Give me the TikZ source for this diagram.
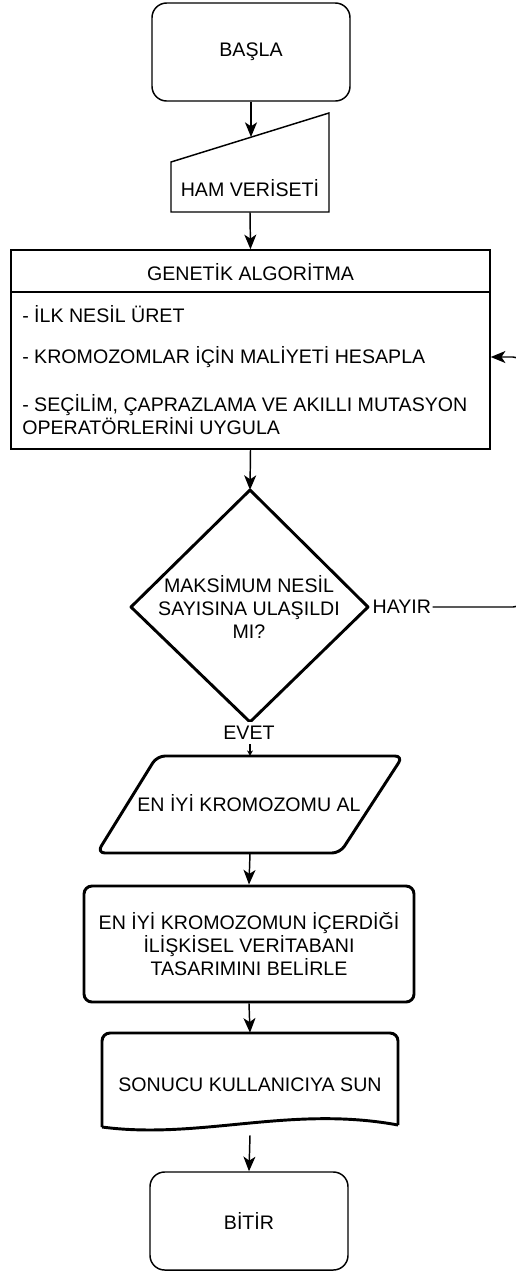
\documentclass[tikz,border=0pt]{standalone}
\usepackage{fontspec}
\setmainfont{Liberation Sans}
\usetikzlibrary{arrows.meta,calc}
\begin{document}
\begin{tikzpicture}[x=0.75pt,y=-0.75pt,
  every node/.style={font=\fontsize{14.7pt}{17.25pt}\selectfont},
  box/.style={inner sep=0pt, align=center},
  thinline/.style={draw, line width=1.1pt},
  thickline/.style={draw, line width=2.2pt, line join=round},
  flow/.style={line width=1.1pt, -{Stealth[length=11pt,width=9pt,inset=3pt]}},
  smallflow/.style={line width=1.1pt, -{Stealth[length=4pt,width=4.5pt]}},
  lbl/.style={fill=white, inner xsep=1pt, inner ysep=3pt},
]
\useasboundingbox (0,0) rectangle (516,1275);
\fill[white] (0,0) rectangle (516,1275);

% start terminal
\node[box, thinline, rounded corners=11pt, minimum width=148.5pt, minimum height=73.5pt] (start) at (251,52) {BAŞLA};

% manual input
\node[box, minimum width=118.5pt, minimum height=74.25pt] (ham) at (250,162.5) {};
\draw[thinline] (171,162) -- (329,113) -- (329,212) -- (171,212) -- cycle;
\node[box] (hamtext) at (250,188) {HAM VERİSETİ};
\coordinate (hamtop) at (251,137);

% genetic algorithm block
\node[box, thinline, minimum width=359.25pt, minimum height=149.25pt] (ga) at (250.5,349.5) {};
\coordinate (div) at (0,292);
\draw[line width=1.1pt] (ga.west |- div) -- (ga.east |- div);
\node[box] (gahead) at (250.5,272) {GENETİK ALGORİTMA};
\node[box, anchor=west] (ga1) at (22,314) {- İLK NESİL ÜRET};
\node[box, anchor=west] (ga2) at (22,357) {- KROMOZOMLAR İÇİN MALİYETİ HESAPLA};
\node[box, anchor=west, align=left] (ga3) at (22,414.5) {- SEÇİLİM, ÇAPRAZLAMA VE AKILLI MUTASYON\\OPERATÖRLERİNİ UYGULA};

% decision
\coordinate (diatop) at (250,490);
\coordinate (diaright) at (368,607);
\coordinate (diabot) at (250,722);
\coordinate (dialeft) at (131,607);
\draw[thickline] (diatop) -- (diaright) -- (diabot) -- (dialeft) -- cycle;
\node[box] (diatext) at (249,607) {MAKSİMUM NESİL\\SAYISINA ULAŞILDI\\MI?};

% output of best chromosome
\node[box, minimum width=229.5pt, minimum height=72.75pt] (best) at (250,804.5) {};
\draw[thickline, rounded corners=6pt] (157,756) -- (403,756) -- (340,853) -- (97,853) -- cycle;
\node[box] (besttext) at (249,803) {EN İYİ KROMOZOMU AL};

% process
\node[box, thickline, rounded corners=6pt, minimum width=247.5pt, minimum height=87pt] (decide) at (249,944)
  {EN İYİ KROMOZOMUN İÇERDİĞİ\\İLİŞKİSEL VERİTABANI\\TASARIMINI BELİRLE};

% document
\node[box, minimum width=222pt, minimum height=76.5pt] (sun) at (250,1084) {};
\draw[thickline, rounded corners=6pt] (102,1127) -- (102,1033) -- (398,1033) -- (398,1125);
\draw[thickline] (398,1125) .. controls (290,1105) and (200,1140) .. (102,1127);
\node[box] (suntext) at (250,1085) {SONUCU KULLANICIYA SUN};

% end terminal
\node[box, thinline, rounded corners=11pt, minimum width=148.5pt, minimum height=73.5pt] (end) at (249,1221) {BİTİR};

% connectors
\draw[flow] (start.south) -- (hamtop);
\draw[flow] (ham.south) -- (ga.north);
\draw[flow] (ga.south) -- (diatop);
\node[fill=white, inner sep=1pt, anchor=west] (hayir) at ($(diaright)+(3,0)$) {HAYIR};
\coordinate (ret) at (521,357);
\draw[flow, rounded corners=6pt] (hayir.east) -- (hayir.east -| ret) -- (ret) -- (ret -| ga.east);
\draw[smallflow] (diabot) -- (best.north);
\node[lbl] (evet) at (249,733) {EVET};
\draw[flow] (best.south) -- (decide.north);
\draw[flow] (decide.south) -- (sun.north);
\draw[flow] (sun.south) -- (end.north);
\end{tikzpicture}
\end{document}
